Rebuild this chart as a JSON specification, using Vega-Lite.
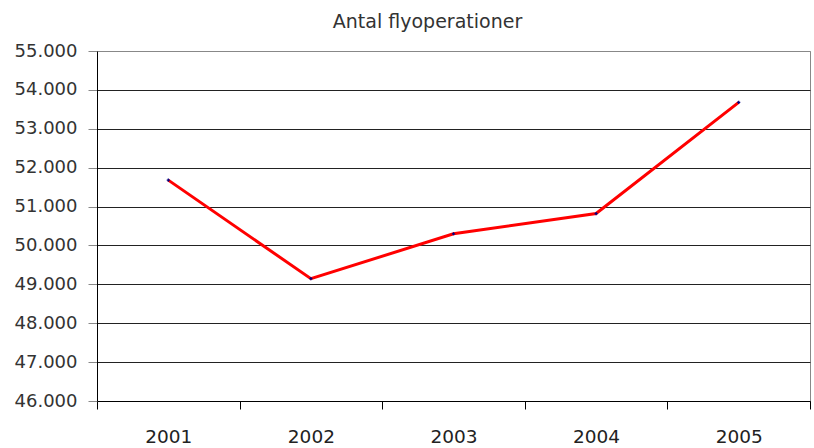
{
  "$schema": "https://vega.github.io/schema/vega-lite/v6.json",
  "width": 713,
  "height": 350,
  "autosize": {"type": "none"},
  "padding": {"left": 97, "top": 51, "right": 4, "bottom": 47},
  "background": "white",
  "title": {
    "text": "Antal flyoperationer",
    "font": "DejaVu Sans",
    "fontSize": 19,
    "fontWeight": "normal",
    "color": "#333333",
    "offset": 10,
    "dx": -26,
    "anchor": "middle",
    "frame": "group"
  },
  "data": {
    "values": [
      {"year": "2001", "value": 51680},
      {"year": "2002", "value": 49145},
      {"year": "2003", "value": 50300},
      {"year": "2004", "value": 50820},
      {"year": "2005", "value": 53680}
    ]
  },
  "encoding": {
    "x": {
      "field": "year",
      "type": "ordinal",
      "bandPosition": 0.5,
      "scale": {"type": "band", "paddingInner": 0, "paddingOuter": 0},
      "axis": {
        "title": null,
        "labelAngle": 0,
        "tickBand": "extent",
        "ticks": true,
        "tickSize": 8,
        "tickColor": "#000000",
        "domainColor": "#000000",
        "grid": false,
        "labelFont": "DejaVu Sans",
        "labelFontSize": 18.5,
        "labelColor": "#222222",
        "labelPadding": 18
      }
    },
    "y": {
      "field": "value",
      "type": "quantitative",
      "scale": {"domain": [46000, 55000], "nice": false, "zero": false},
      "axis": {
        "title": null,
        "values": [46000, 47000, 48000, 49000, 50000, 51000, 52000, 53000, 54000, 55000],
        "labelExpr": "replace(format(datum.value, ','), ',', '.')",
        "grid": true,
        "gridColor": {"condition": {"test": "datum.value == 55000", "value": "#888888"}, "value": "#222222"},
        "gridWidth": 1,
        "domainColor": "#000000",
        "tickColor": "#888888",
        "tickSize": 9,
        "labelFont": "DejaVu Sans",
        "labelFontSize": 18,
        "labelColor": "#333333",
        "labelPadding": 11
      }
    }
  },
  "layer": [
    {"mark": {"type": "line", "color": "#ff0000", "strokeWidth": 3}},
    {"mark": {"type": "point", "shape": "cross", "size": 10, "filled": true, "color": "#000080", "opacity": 1}}
  ],
  "config": {
    "view": {"stroke": "#888888", "strokeWidth": 1}
  }
}
